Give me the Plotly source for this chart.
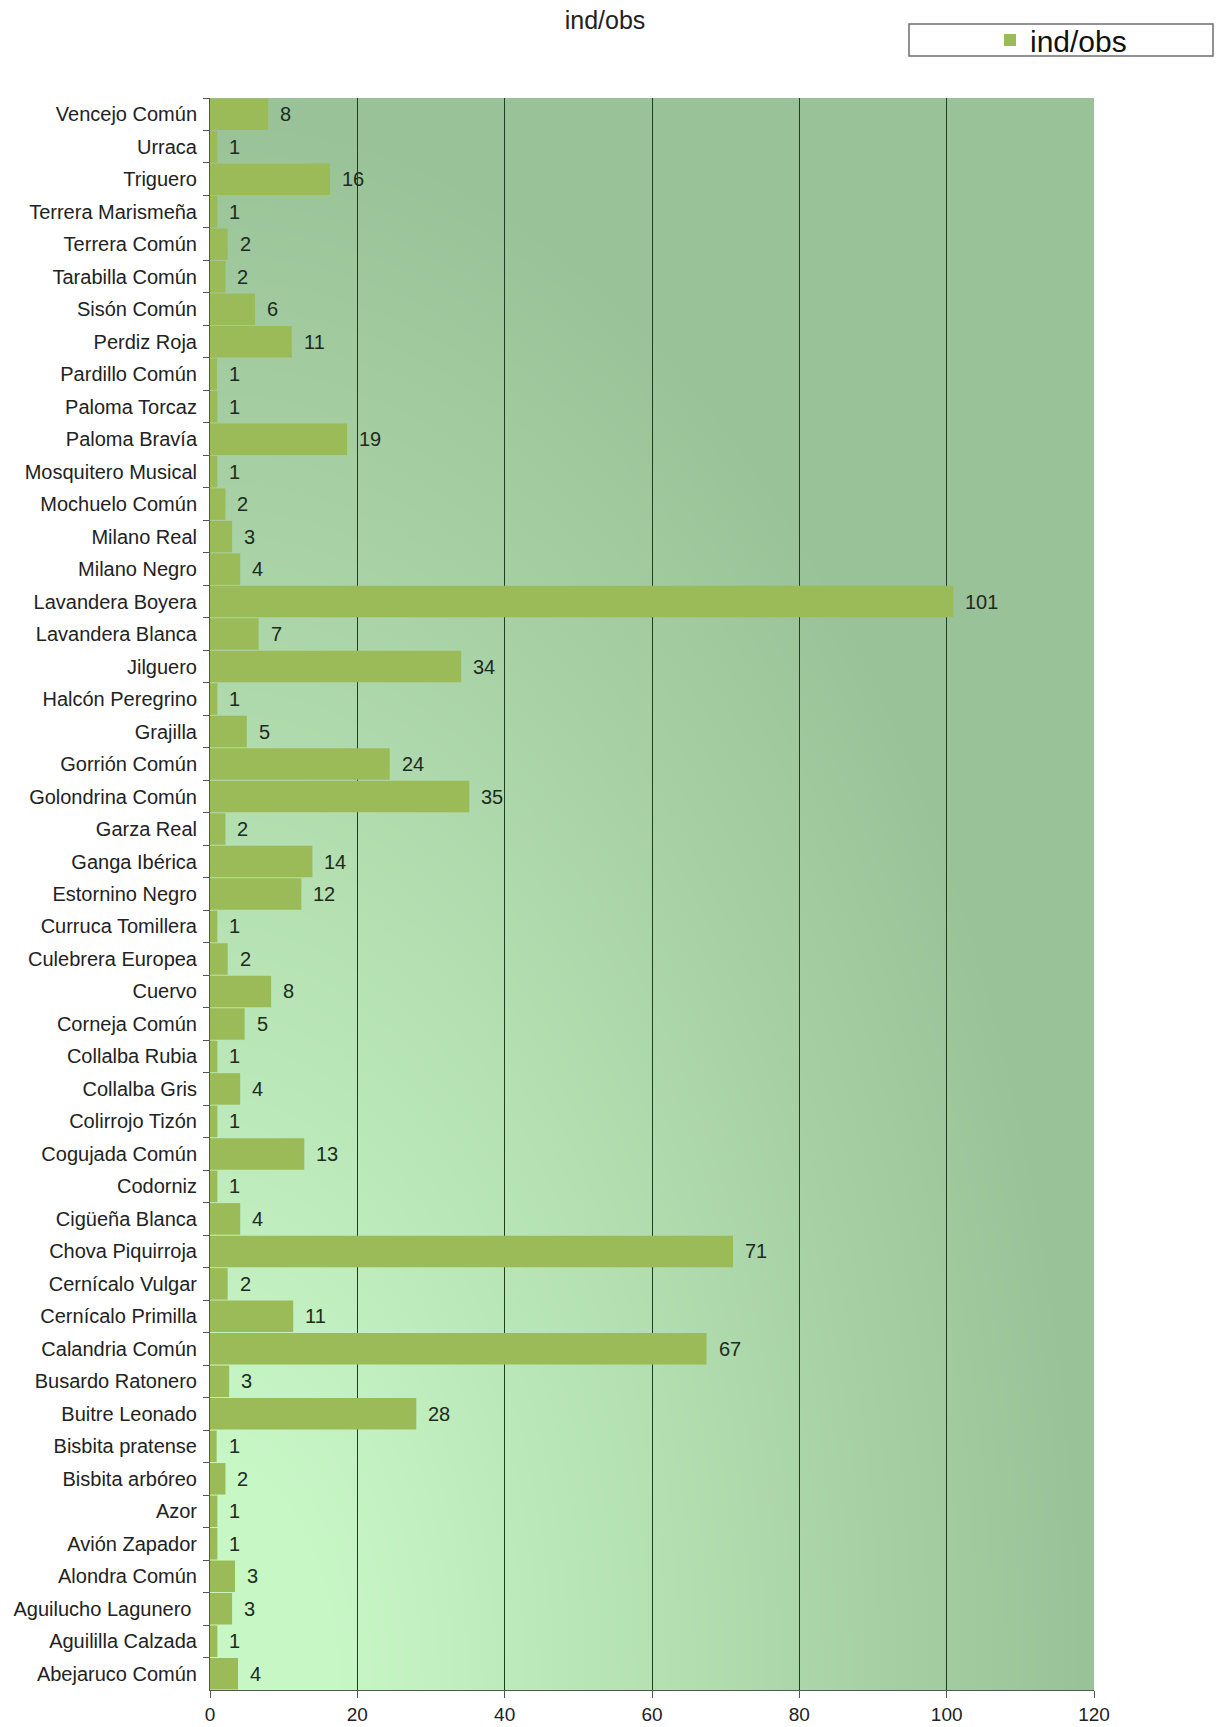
import zlib, struct, base64
import numpy as np
import plotly.graph_objects as go

# ---------------- data (top to bottom as shown) ----------------
species = [
    "Vencejo Común", "Urraca", "Triguero", "Terrera Marismeña", "Terrera Común",
    "Tarabilla Común", "Sisón Común", "Perdiz Roja", "Pardillo Común", "Paloma Torcaz",
    "Paloma Bravía", "Mosquitero Musical", "Mochuelo Común", "Milano Real", "Milano Negro",
    "Lavandera Boyera", "Lavandera Blanca", "Jilguero", "Halcón Peregrino", "Grajilla",
    "Gorrión Común", "Golondrina Común", "Garza Real", "Ganga Ibérica", "Estornino Negro",
    "Curruca Tomillera", "Culebrera Europea", "Cuervo", "Corneja Común", "Collalba Rubia",
    "Collalba Gris", "Colirrojo Tizón", "Cogujada Común", "Codorniz", "Cigüeña Blanca",
    "Chova Piquirroja", "Cernícalo Vulgar", "Cernícalo Primilla", "Calandria Común",
    "Busardo Ratonero", "Buitre Leonado", "Bisbita pratense", "Bisbita arbóreo", "Azor",
    "Avión Zapador", "Alondra Común", "Aguilucho Lagunero\u00a0", "Aguililla Calzada",
    "Abejaruco Común",
]
ind_obs = [
    7.9, 1.0, 16.3, 1.0, 2.4,
    2.1, 6.1, 11.1, 0.95, 1.0,
    18.6, 1.0, 2.1, 3.0, 4.1,
    100.9, 6.6, 34.1, 1.0, 5.0,
    24.4, 35.2, 2.1, 13.9, 12.4,
    1.0, 2.4, 8.3, 4.7, 1.0,
    4.1, 1.0, 12.8, 1.0, 4.1,
    71.0, 2.4, 11.3, 67.4,
    2.6, 28.0, 0.9, 2.1, 1.0,
    1.0, 3.4, 3.0, 1.0,
    3.8,
]
value_labels = [
    8, 1, 16, 1, 2,
    2, 6, 11, 1, 1,
    19, 1, 2, 3, 4,
    101, 7, 34, 1, 5,
    24, 35, 2, 14, 12,
    1, 2, 8, 5, 1,
    4, 1, 13, 1, 4,
    71, 2, 11, 67,
    3, 28, 1, 2, 1,
    1, 3, 3, 1,
    4,
]
x_ticks = [0, 20, 40, 60, 80, 100, 120]
series_name = "ind/obs"
title_text = "ind/obs"

FONT = "Liberation Sans, Arial, sans-serif"
BAR_COLOR = "#9bbb59"


# ---------------- background gradient image ----------------
def png_data_uri(arr):
    h, w, _ = arr.shape
    raw = b"".join(b"\x00" + arr[i].tobytes() for i in range(h))

    def chunk(tag, data):
        c = struct.pack(">I", len(data)) + tag + data
        return c + struct.pack(">I", zlib.crc32(tag + data) & 0xFFFFFFFF)

    png = (b"\x89PNG\r\n\x1a\n"
           + chunk(b"IHDR", struct.pack(">IIBBBBB", w, h, 8, 2, 0, 0, 0))
           + chunk(b"IDAT", zlib.compress(raw, 9))
           + chunk(b"IEND", b""))
    return "data:image/png;base64," + base64.b64encode(png).decode()


GW, GH = 221, 398
u = (np.arange(GW) + 0.5) / GW
v = 1 - (np.arange(GH) + 0.5) / GH
U, V = np.meshgrid(u, v)
t = np.sqrt(U ** 2 + V ** 2)
s = np.clip((t - 0.15) / 0.85, 0, 1)
light = np.array([200, 247, 198], dtype=float)
dark = np.array([154, 194, 152], dtype=float)
img = light[None, None, :] + (dark - light)[None, None, :] * s[:, :, None]
img = np.clip(img, 0, 255).astype(np.uint8)
bg_uri = png_data_uri(img)

# ---------------- figure ----------------
fig = go.Figure()
fig.add_trace(go.Bar(
    x=ind_obs, y=species, orientation="h",
    name=series_name, marker=dict(color=BAR_COLOR, line=dict(width=0)),
    hoverinfo="x+y",
))

annotations = []
for sp, val, lab in zip(species, ind_obs, value_labels):
    annotations.append(dict(
        x=val, y=sp, xref="x", yref="y", text=str(lab), showarrow=False,
        xanchor="left", yanchor="middle", xshift=10,
        font=dict(family=FONT, size=20, color="#1e2a1e"),
    ))

fig.update_layout(
    width=1221, height=1727,
    margin=dict(l=210, r=127, t=98, b=37, autoexpand=False),
    paper_bgcolor="white",
    plot_bgcolor="rgba(0,0,0,0)",
    font=dict(family=FONT, color="#222"),
    bargap=0.03,
    title=dict(text=title_text, x=605 / 1221, xref="container", xanchor="center",
               y=1 - 20 / 1727, yref="container", yanchor="middle",
               font=dict(family=FONT, size=25, color="#222")),
    showlegend=True,
    legend=dict(x=(990 - 210) / 884, xanchor="left", y=(1690 - 40) / 1592, yanchor="middle",
                bgcolor="rgba(0,0,0,0)", borderwidth=0,
                font=dict(family=FONT, size=30, color="#111")),
    images=[dict(source=bg_uri, xref="x domain", yref="y domain", x=0, y=1,
                 sizex=1, sizey=1, sizing="stretch", layer="below",
                 xanchor="left", yanchor="top")],
    shapes=[dict(type="rect", xref="paper", yref="paper",
                 x0=(909 - 210) / 884, x1=(1213 - 210) / 884,
                 y0=(1690 - 56) / 1592, y1=(1690 - 24) / 1592,
                 line=dict(color="#6e6e6e", width=1.5), fillcolor="white", layer="below")],
    annotations=annotations,
)

fig.update_xaxes(
    range=[0, 120], tickvals=x_ticks, ticktext=[str(v) for v in x_ticks],
    automargin=False,
    showgrid=True, gridcolor="#1f3d1f", gridwidth=1, zeroline=False,
    showline=True, linecolor="#555", linewidth=1,
    ticks="outside", ticklen=7, tickcolor="#555",
    ticklabelstandoff=0,
    tickfont=dict(family=FONT, size=19, color="#222"),
)
fig.update_yaxes(
    autorange="reversed", type="category", automargin=False,
    showgrid=False, zeroline=False,
    showline=True, linecolor="#555", linewidth=1,
    ticks="outside", tickson="boundaries", ticklen=6, tickcolor="#555",
    ticklabelstandoff=8,
    tickfont=dict(family=FONT, size=20, color="#222"),
)

fig.write_html("out.html")
